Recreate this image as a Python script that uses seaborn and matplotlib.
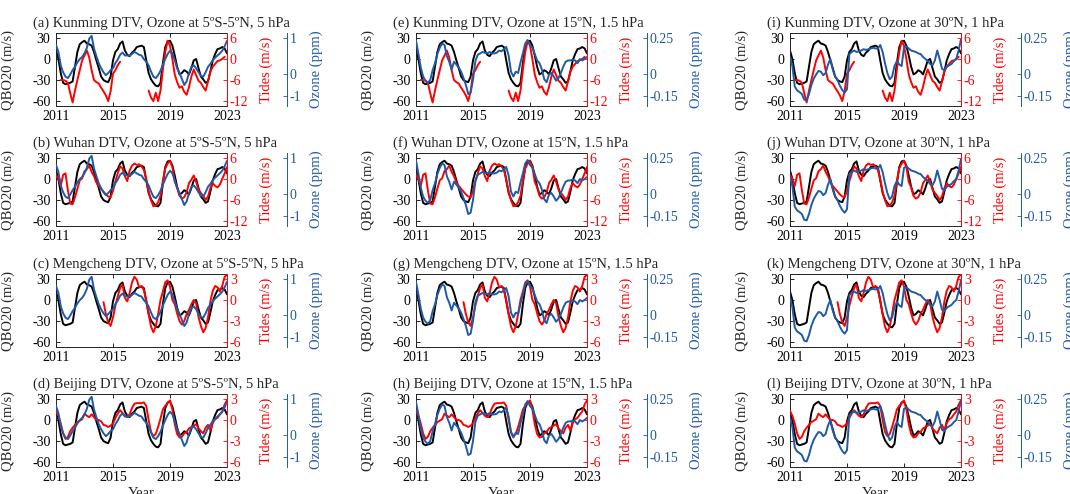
import numpy as np
import pandas as pd
import matplotlib
matplotlib.use("Agg")
import matplotlib.pyplot as plt
import seaborn as sns

nan = np.nan
years = np.round(np.linspace(2011, 2023, 73), 4)

qbo20 = [12, 0, -20, -34, -36, -35, -34, -32, -11, 10,
         21, 24, 26, 22, 21, 19, 10, -2, -13, -25,
         -30, -32, -33, -25, -2, 10, 14, 22, 25, 12,
         6, 4, 9, 12, 17, 18, 19, 17, -2, -20,
         -29, -34, -38, -39, -34, -6, 17, 25, 26, 19,
         5, -11, -22, -20, -16, -18, -22, -13, -2, 0,
         -13, -25, -29, -34, -32, -18, -2, 7, 14, 15,
         17, 15, 8]

tides_kunming = [nan, nan, -6, -6, -6.2, -6.8, -9.8, -12.4, -9, -6,
                 -3.2, -0.4, 1, 2.4, 0.4, -3.2, -6, -6.6, -7, -8.2,
                 -9.2, -10.4, -12, -9.2, -4.2, -3.2, -1.8, -0.8, nan, nan,
                 nan, nan, nan, nan, nan, nan, nan, nan, nan, -9,
                 -11, -12, -9.6, -12, -9, -3, 2, 5.2, 3.8, 0,
                 -4.4, -6.6, -8.2, -7.8, -9.4, -10.2, -8, -5, -3, -4.6,
                 -6.2, -6.8, -8, -9, -6.4, -3.6, -2.2, -1.4, -0.6, -0.4,
                 0, 0.6, nan]

tides_wuhan = [1.2, 0, -2, 1.2, 1.6, -3.2, -7, -7.2, -5.2, -2.8,
               -0.4, 0.2, 2.2, 2.8, 3.8, 2, 0.8, -1, -2, -2.8,
               -3.6, -4.4, -5, -5.2, -3.4, -0.6, 1.6, 3.6, 3, 0.8,
               -0.6, 2.4, 3.8, 4.4, 4, 4.2, 3.6, 2.6, 0, -3.6,
               -6, -7.8, -7.6, -6.6, -4.8, -0.6, 3, 4.4, 5.2, 3.4,
               -0.8, -2.4, -4.8, -5.6, -5.2, -3.8, -1.2, -0.2, 1, -0.8,
               -3, -4, -4.8, -6, -5, -2.6, -1.2, -2, -2.4, -1.6,
               0, 1.6, 3.4]

tides_mengcheng = [nan] * 20 + [
    -0.3, -2, -3.2, -3.7, -2.5, -0.8, 0.5, 1.7, 2.2, 0.3,
    -0.2, 1, 2.5, 3.3, 2.9, 1.8, 2, 1.4, 0, -2,
    -3.8, -4.6, -3.8, -2, 0, 1.2, 2.5, 2.8, 1.9, 0,
    -0.6, -1.9, -3, -3.5, -3, -2, -1.4, -0.6, 0, -0.5,
    -2.4, -3.7, -4.6, -4, -2.5, -0.2, 1.3, 2, 1.8, 1.2,
    2, 3.3, 3.6]

tides_beijing = [1.3, 0.6, -0.5, -1.9, -2.7, -2.4, -1.6, -1.1, -0.7, -0.3,
                 -0.1, 0.1, 0.9, 0.6, 0.4, 0.8, 0.4, 0, 0, -0.2,
                 -0.7, -0.8, -1, -0.8, -0.5, 0.3, 0.9, 1.4, 1, 0.6,
                 0.4, 0.8, 1.7, 2.3, 2.4, 2.4, 2.4, 2.5, 2, 0,
                 -1.7, -2.3, -2, -1, 0.2, 1.5, 2, 2.4, 2.8, 1.5,
                 -0.6, -2, -2.5, -2.4, -1.9, -1.7, -1.2, -1, -0.8, -0.6,
                 -1.2, -1.6, -1.9, -1.1, -0.7, -1.5, -0.4, 0.1, 0.3, 0.8,
                 1.2, 2.2, 2.8]

ozone_eq_5hpa = [0.8, 0.61, 0.24, 0.05, -0.07, -0.11, -0.01, 0.11, 0.20, 0.32,
                 0.41, 0.47, 0.57, 0.72, 0.97, 1.05, 0.70, 0.49, 0.30, 0.16,
                 0.05, -0.03, 0.03, 0.11, 0.16, 0.30, 0.40, 0.53, 0.59, 0.51,
                 0.51, 0.51, 0.55, 0.61, 0.57, 0.53, 0.51, 0.41, 0.34, 0.24,
                 0.07, -0.07, -0.11, -0.03, 0.09, 0.26, 0.41, 0.55, 0.64, 0.57,
                 0.38, 0.16, 0.03, -0.13, -0.30, -0.20, 0.03, 0.20, 0.24, 0.16,
                 0.05, -0.05, -0.07, 0.05, 0.20, 0.28, 0.38, 0.45, 0.51, 0.57,
                 0.64, 0.76, 0.91]

ozone_15n_1p5hpa = [0.229, 0.142, 0.046, -0.016, -0.045, -0.059, -0.040, 0.027, 0.075, 0.138,
                    0.181, 0.210, 0.200, 0.123, 0.085, 0.032, 0.085, 0.066, 0.046, 0.017,
                    -0.026, -0.074, -0.136, -0.127, -0.040, 0.090, 0.133, 0.142, 0.152, 0.147,
                    0.142, 0.152, 0.142, 0.142, 0.147, 0.162, 0.157, 0.171, 0.186, 0.128,
                    0.017, -0.016, 0.017, 0.008, 0.080, 0.142, 0.210, 0.234, 0.200, 0.181,
                    0.138, 0.094, 0.075, 0.032, -0.035, -0.055, -0.002, 0.008, -0.016, -0.045,
                    -0.026, 0.008, 0.051, 0.085, 0.094, 0.094, 0.099, 0.094, 0.075, 0.104,
                    0.094, 0.104, 0.118]

ozone_30n_1hpa = [0.118, 0.056, -0.084, -0.112, -0.122, -0.136, -0.175, -0.180, -0.136, -0.074,
                  -0.031, -0.002, 0.022, 0.017, -0.007, 0.008, 0.066, 0.104, 0.032, -0.016,
                  -0.040, -0.079, -0.108, -0.127, -0.103, 0.138, 0.152, 0.162, 0.152, 0.157,
                  0.162, 0.171, 0.166, 0.171, 0.176, 0.181, 0.176, 0.176, 0.200, 0.152,
                  0.075, 0.008, -0.035, -0.016, 0.056, 0.090, 0.066, 0.056, 0.181, 0.190,
                  0.176, 0.162, 0.157, 0.152, 0.142, 0.138, 0.118, 0.104, 0.090, 0.070,
                  0.061, 0.094, 0.162, 0.104, 0.037, 0.027, 0.051, 0.061, 0.070, 0.090,
                  0.104, 0.162, 0.239]

stations = ["Kunming", "Wuhan", "Mengcheng", "Beijing"]
tides_series = [tides_kunming, tides_wuhan, tides_mengcheng, tides_beijing]
ozone_titles = ["5ºS-5ºN, 5 hPa", "15ºN, 1.5 hPa", "30ºN, 1 hPa"]
ozone_series = [ozone_eq_5hpa, ozone_15n_1p5hpa, ozone_30n_1hpa]
letters = "abcdefghijkl"

sns.set_theme(style="ticks")
plt.rcParams["font.family"] = ["Liberation Serif", "DejaVu Serif"]
plt.rcParams["axes.unicode_minus"] = False
plt.rcParams["font.size"] = 10

RED = "#ff0000"
BLUE = "#1f5aa8"
BLACK = "#000000"

W, H = 1070, 494
lefts = [56, 416, 790]
tops = [33, 153, 274, 394]
aw, ah = 171, 73

fig = plt.figure(figsize=(W / 100, H / 100), dpi=100)


def draw(ax, y, color):
    y = np.asarray(y, float)
    idx = np.flatnonzero(~np.isnan(y))
    groups = np.split(idx, np.where(np.diff(idx) > 1)[0] + 1)
    for g in groups:
        if len(g) > 1:
            df = pd.DataFrame({"year": years[g], "val": y[g]})
            sns.lineplot(data=df, x="year", y="val", ax=ax, color=color,
                         lw=1.4, legend=False, errorbar=None)
    ax.set_xlabel("")
    ax.set_ylabel("")


for c in range(3):
    for r in range(4):
        ax = fig.add_axes([lefts[c] / W, 1 - (tops[r] + ah) / H, aw / W, ah / H])
        axt = ax.twinx()
        axo = ax.twinx()

        draw(ax, qbo20, BLACK)
        draw(axt, tides_series[r], RED)
        draw(axo, ozone_series[c], BLUE)

        ax.set_xlim(2011, 2023)
        ax.set_xticks([2011, 2015, 2019, 2023])
        ax.set_ylim(-67, 37)
        ax.set_yticks([30, 0, -30, -60])
        ax.tick_params(axis="both", direction="in", length=3, width=0.6,
                       top=True, right=False, labelsize=10, colors=BLACK)
        ax.tick_params(axis="y", pad=4)
        ax.tick_params(axis="x", pad=3)
        for s in ["left", "top", "bottom"]:
            ax.spines[s].set_color("#222222")
            ax.spines[s].set_linewidth(0.7)
        ax.spines["right"].set_visible(False)
        ax.set_ylabel("QBO20 (m/s)", fontsize=10.5)
        ax.yaxis.set_label_coords(-41 / aw, 0.5)

        if r < 2:
            axt.set_ylim(-13.4, 7.4)
            axt.set_yticks([6, 0, -6, -12])
        else:
            axt.set_ylim(-6.7, 3.7)
            axt.set_yticks([3, 0, -3, -6])
        for s in ["left", "top", "bottom"]:
            axt.spines[s].set_visible(False)
        axt.spines["right"].set_color(RED)
        axt.spines["right"].set_linewidth(0.7)
        axt.tick_params(axis="y", direction="in", length=3, width=0.6,
                        colors=RED, labelsize=10, pad=2)
        axt.set_ylabel("Tides (m/s)", color=RED, fontsize=10.5)
        axt.yaxis.set_label_coords(1.19, 0.5)

        axo.spines["right"].set_position(("outward", 43.2))
        for s in ["left", "top", "bottom"]:
            axo.spines[s].set_visible(False)
        axo.spines["right"].set_color(BLUE)
        axo.spines["right"].set_linewidth(0.7)
        if c == 0:
            axo.set_ylim(-0.874, 1.126)
            axo.set_yticks([1, 0, -0.6], labels=["1", "0", "-1"])
            axo.yaxis.set_label_coords(1.485, 0.5)
        else:
            axo.set_ylim(-0.218, 0.282)
            axo.set_yticks([0.25, 0, -0.15], labels=["0.25", "0", "-0.15"])
            axo.yaxis.set_label_coords(1.60, 0.5)
        axo.tick_params(axis="y", direction="in", length=3, width=0.6,
                        colors=BLUE, labelsize=10, pad=2)
        axo.set_ylabel("Ozone (ppm)", color=BLUE, fontsize=10.5)

        letter = letters[c * 4 + r]
        ax.text(-23 / aw, 1 + 6 / ah,
                f"({letter}) {stations[r]} DTV, Ozone at {ozone_titles[c]}",
                transform=ax.transAxes, ha="left", va="baseline", fontsize=10.5)

        if r == 3:
            ax.set_xlabel("Year", fontsize=10.5)
            ax.xaxis.set_label_coords(0.5, -0.27)

fig.savefig("out.png", dpi=100)
